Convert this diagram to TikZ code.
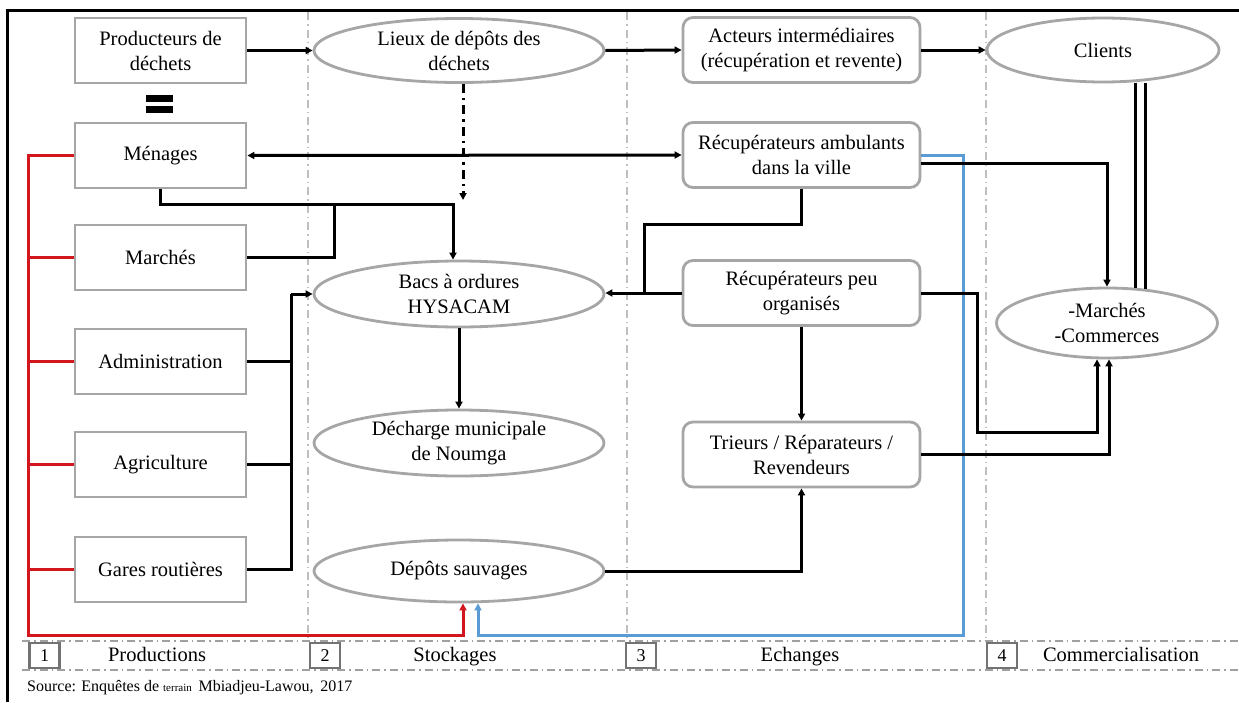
\documentclass[tikz,border=0pt]{standalone}
\usepackage{fontspec}
\setmainfont{Liberation Serif}
\usetikzlibrary{arrows.meta,shapes.geometric}
\definecolor{boxgray}{HTML}{A6A6A6}
\definecolor{divgray}{HTML}{BFBFBF}
\definecolor{bandgray}{HTML}{A0A0A0}
\definecolor{redline}{HTML}{D2161E}
\definecolor{blueline}{HTML}{5B9BD5}
\begin{document}
\begin{tikzpicture}[x=1pt,y=-1pt,
  txt/.style={font=\fontsize{20.5}{25}\selectfont, align=center, text=black},
  sqbox/.style={txt, draw=boxgray, line width=2.8pt, minimum width=171pt, minimum height=65pt, inner sep=0pt},
  rdbox/.style={txt, draw=boxgray, line width=2.8pt, rounded corners=10pt, minimum width=237pt, minimum height=65pt, inner sep=0pt},
  ell/.style={txt, ellipse, draw=boxgray, line width=2.8pt, minimum width=290pt, minimum height=64pt, inner sep=0pt},
  conn/.style={draw=black, line width=3pt},
  tip/.style={-{Triangle[length=7pt,width=7pt]}},
  arr/.style={conn, tip},
  darr/.style={conn, {Triangle[length=7pt,width=7pt]}-{Triangle[length=7pt,width=7pt]}},
  redc/.style={draw=redline, line width=3pt},
  bluec/.style={draw=blueline, line width=3pt},
  divider/.style={draw=divgray, line width=1.2pt, dash pattern=on 8pt off 4pt on 1.5pt off 4pt},
  bandline/.style={draw=bandgray, line width=1.2pt, dash pattern=on 8pt off 4pt on 1.5pt off 4pt},
  numbox/.style={draw=gray!90!black, line width=2.4pt, minimum width=30pt, minimum height=25pt, inner sep=0pt, font=\fontsize{18}{20}\selectfont},
  bandlbl/.style={font=\fontsize{20.5}{24}\selectfont, anchor=base}
]
\useasboundingbox (0,0) rectangle (1239,702);
\fill[white] (0,0) rectangle (1239,702);
% frame
\draw[line width=3pt] (7,702) -- (7,10) -- (1239,10);
% dividers
\draw[divider] (308,12) -- (308,641);
\draw[divider] (627,12) -- (627,641);
\draw[divider] (986,12) -- (986,641);

% column 1
\node[sqbox] (prod) at (160.5,50.5) {Producteurs de\\déchets};
\node[sqbox] (men) at (160.5,155.5) {Ménages};
\node[sqbox] (mar) at (160.5,257.5) {Marchés};
\node[sqbox] (adm) at (160.5,361.5) {Administration};
\node[sqbox] (agr) at (160.5,464.5) {Agriculture};
\node[sqbox] (gar) at (160.5,569.5) {Gares routières};
% equals sign
\fill (146,95) rectangle (173,102);
\fill (146,106) rectangle (173,113);

% column 2
\node[ell] (lieux) at (459,50.5) {Lieux de dépôts des\\déchets};
\node[ell, minimum height=66pt] (bacs) at (459,294) {Bacs à ordures\\HYSACAM};
\node[ell, minimum height=66pt] (dech) at (459,443) {Décharge municipale\\de Noumga};
\node[ell, minimum height=62pt] (dep) at (459,571) {Dépôts sauvages};

% column 3
\node[rdbox] (act) at (801.5,50) {Acteurs intermédiaires\\(récupération et revente)};
\node[rdbox] (amb) at (801.5,155) {Récupérateurs ambulants\\dans la ville};
\node[rdbox] (peu) at (801.5,293) {Récupérateurs peu\\organisés};
\node[rdbox] (tri) at (801.5,454.5) {Trieurs / Réparateurs /\\Revendeurs};

% column 4
\node[ell, minimum width=232pt, minimum height=64pt] (cli) at (1103,50) {Clients};
\node[ell, minimum width=221pt, minimum height=70pt] (mc) at (1107,323) {-Marchés\\-Commerces};

% helper coordinates
\coordinate (dd) at (463,200);
\coordinate (mj) at (334,204);
\coordinate (bus) at (291,294);
\coordinate (redx) at (28,0);
\coordinate (redb) at (28,635);
\coordinate (blux) at (963,0);
\coordinate (pj) at (644,293);
\coordinate (ambj) at (644,224);
\coordinate (rpb) at (977,432);
\coordinate (dl1) at (1135,0);
\coordinate (dl2) at (1145,0);

% top flow
\draw[arr] (prod.east) -- (lieux.west);
\draw[arr] (lieux.east) -- (act.west);
\draw[arr] (act.east) -- (cli.west);
\draw[conn, tip, dash pattern=on 9pt off 5pt on 2.5pt off 5pt] ([xshift=4pt]lieux.south) -- (dd);

% menages <-> ambulants
\draw[darr] (men.east) -- (amb.west);
% menages / marches to bacs
\draw[arr] (men.south) |- (mj) -| ([xshift=-6pt]bacs.north);
\draw[conn] (mar.east) -| (mj);
% bus
\draw[conn] (adm.east) -- (adm.east -| bus);
\draw[conn] (agr.east) -- (agr.east -| bus);
\draw[conn] (gar.east) -- (gar.east -| bus) -- (bus);
\draw[arr] (bus) -- (bacs.west);
\draw[arr] (bacs.south) -- (dech.north);

% red
\draw[redc, tip] (men.west) -| (redb) -| ([xshift=4pt]dep.south);
\draw[redc] (mar.west) -- (mar.west -| redx);
\draw[redc] (adm.west) -- (adm.west -| redx);
\draw[redc] (agr.west) -- (agr.west -| redx);
\draw[redc] (gar.west) -- (gar.west -| redx);

% blue
\draw[bluec, tip] (amb.east) -| (blux |- redb) -| ([xshift=19pt]dep.south);

% column 3 links
\draw[arr] (peu.west) -- (peu.west -| bacs.east);
\draw[conn] (amb.south) |- (ambj) -- (pj);
\draw[arr] (peu.south) -- (tri.north);
\draw[arr] (dep.east) -| (tri.south);
\draw[arr] ([yshift=-8pt]amb.east) -| (mc.north);
\draw[arr] (peu.east) -| (rpb) -| ([xshift=-10pt]mc.south);
\draw[arr] (tri.east) -| ([xshift=2pt]mc.south);
% clients double line
\draw[conn] (cli.south -| dl1) -- ([yshift=-1pt]mc.north -| dl1);
\draw[conn] (cli.south -| dl2) -- ([yshift=-2pt]mc.north -| dl2);

% bottom band
\draw[bandline] (22,641) -- (1239,641);
\draw[bandline] (22,670) -- (1239,670);
\node[numbox] (n1) at (44.5,655.5) {1};
\node[numbox] (n2) at (325,655.5) {2};
\node[numbox] (n3) at (641,655.5) {3};
\node[numbox] (n4) at (1002,655.5) {4};
\node[bandlbl] (l1) at (157,661) {Productions};
\node[bandlbl] (l2) at (455,661) {Stockages};
\node[bandlbl] (l3) at (800,661) {Echanges};
\node[bandlbl] (l4) at (1121,661) {Commercialisation};

% source
\node[anchor=west, inner sep=0pt, font=\fontsize{16}{18}\selectfont] (src) at (27,688) {Source: Enquêtes de {\fontsize{11}{12}\selectfont terrain}\, Mbiadjeu-Lawou,\, 2017};
\end{tikzpicture}
\end{document}
